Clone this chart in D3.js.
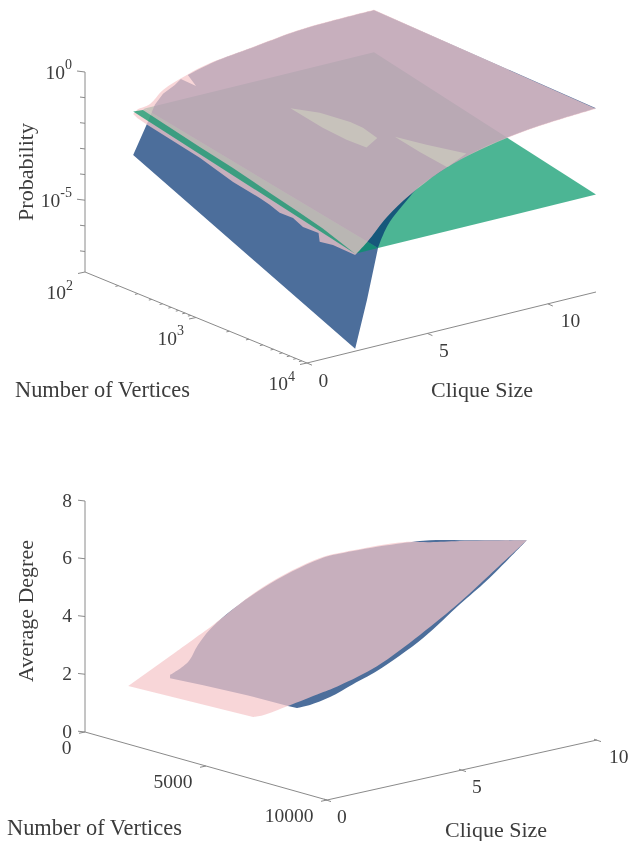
<!DOCTYPE html>
<html><head><meta charset="utf-8">
<script src="https://cdn.jsdelivr.net/npm/d3@7"></script>
<style>
html,body{margin:0;padding:0;background:#fff}
svg{display:block;filter:blur(0.45px)}
text{font-family:"Liberation Serif",serif;fill:#3c3c3c}
</style></head><body>
<script>
// ---------- Top panel data: [clique size, log10 vertices, log10 probability] ----------
const greenPlaneCorners = [[2.48,2,-2],[12,2,-2],[12,4,-4],[2.95,4,-4]];
const greenBelowPink = [[2.36,2.01,-2.01],[2.48,2,-2],[2.95,4,-4],[2,4,-4],[2.13,3.79,-3.79],[2.21,3.66,-3.66],[2.25,3.45,-3.45],[2.29,3.17,-3.17],[2.35,2.82,-2.82],[2.34,2.53,-2.53]];
const greenAbovePink = [[2,2,-2],[2.36,2.01,-2.01],[2.34,2.53,-2.53],[2.35,2.82,-2.82],[2.29,3.17,-3.17],[2.25,3.45,-3.45],[2.21,3.66,-3.66],[2.13,3.79,-3.79],[2,4,-4]];
const blueLeftEdge = [[2,2,-3.7],[2.57,2,-2.62],[2.9,2,-1.95],[3.24,2,-1.6],[3.73,2,-1.37],[3.98,2,-1.19],[4.61,2,-1.61]];
const blueFarEdge = [[4.27,2,-1.1],[5.31,2,-0.85],[6.97,2,-0.65],[8.63,2,-0.45],[9.75,2,-0.39],[12,2,-0.36]];
const blueFrontEdge = [[12,4,-0.635],[10.08,4,-0.74],[8.3,4,-0.92],[6.76,4,-1.22],[5.52,4,-1.62],[4.6,4,-2.03],[4.27,4,-2.3],[3.36,4,-3.19],[2.95,4,-3.99]];
const blueBottomEdge = [[2.49,4,-5.92],[2,4,-7.71]];
const blueHoleA = [[6.87,2.36,-2.36],[7.54,2.48,-2.48],[8.02,2.65,-2.65],[8.13,2.74,-2.74],[8.08,2.88,-2.88],[7.31,2.95,-2.95],[7.08,2.82,-2.82],[6.92,2.64,-2.64]];
const blueHoleB = [[8.67,2.91,-2.91],[9.25,3.07,-3.07],[10.03,3.26,-3.26],[8.82,3.35,-3.35],[8.71,3.13,-3.13]];
const pinkTipEdge = [[2,2.04,-2.19],[2,2,-2.1]];
const pinkFarEdge = [[2.2,2,-1.95],[2.7,2,-1.87],[3.24,2,-1.45],[4.23,2,-1.09],[5.31,2,-0.83],[6.97,2,-0.63],[8.63,2,-0.43],[9.75,2,-0.37],[12,2,-0.34]];
const pinkFrontEdge = [[12,4,-0.655],[10.08,4,-0.76],[8.3,4,-0.94],[6.76,4,-1.24],[5.52,4,-1.62],[4.27,4,-2.23],[3.32,4,-2.87],[2.5,4,-3.66],[2,4,-4.05]];
const pinkLowerEdge = [[2,3.8,-4.01],[2,3.68,-4.1],[2,3.67,-3.78],[2,3.53,-3.79],[2,3.44,-3.6],[2,3.32,-3.61],[2,3.23,-3.46],[2,3.14,-3.35],[2,2.9,-3.15],[2,2.6,-2.74],[2,2.13,-2.3]];

// ---------- Bottom panel data: [clique size, vertices, average degree] ----------
const lowerPinkNose = [[1.6,0,1.26],[3,450,2.28]];
const lowerPinkTop = [[3,450,2.28],[4,830,3.07],[5,1780,4.4],[5.5,3570,5.72],[6,4380,6.08],[6.5,5890,6.61],[6.8,6670,6.73],[7,7690,6.97],[7.4,10000,7.46]];
const lowerPinkEdge = [[7.4,10000,7.46],[5.93,10000,6.48],[4.93,10000,5.83],[3.44,10000,5],[1.85,10000,4.25],[1.6,8750,3.35],[1.6,7960,2.89],[1.6,6600,2.12],[1.6,5570,1.56],[1.6,5160,1.4]];
const lowerBlueNose = [[1.6,1730,1.94],[1.6,1730,2.05]];
const lowerBlueTop = [[1.6,1730,2.05],[2.5,1470,2.25],[3,1320,2.7],[4,830,3.03],[5,1780,4.37],[5.5,3570,5.69],[6,4380,6.05],[6.5,5890,6.58],[6.8,6670,6.8],[7.1,7860,7.02],[7.4,10000,7.46]];
const lowerBlueEdge = [[7.4,10000,7.46],[5.93,10000,6.38],[4.93,10000,5.76],[3.56,10000,4.87],[1.85,10000,4.08],[1.6,9290,3.51],[1.6,8340,2.84],[1.6,7510,2.37],[1.6,6970,2.14]];
const lowerBlueBase = [[1.6,6600,2.12],[1.6,4910,2.1],[1.6,3100,2.02]];

// ---------- Axis ticks ----------
const topProbMajor = [0,-5];
const topProbMinor = [-1,-2,-3,-4,-6,-7];
const topVertMajor = [100,1000,10000];
const topVertMinor = [200,300,400,500,600,700,800,900,2000,3000,4000,5000,6000,7000,8000,9000];
const topCliqueTicks = [0,5,10];
const lowDegreeTicks = [0,2,4,6,8];
const lowVertTicks = [0,5000,10000];
const lowCliqueTicks = [0,5,10];

const colours = {green:"#009567", blue:"#003170", pink:"#F5C7C9", axis:"#8a8a8a"};
const alpha = {green:0.7, blue:0.7, pink:0.73};

const svg = d3.select("body").append("svg").attr("width",640).attr("height",841);
svg.append("rect").attr("width",640).attr("height",841).attr("fill","#fff");

// ---------- Scales: each data axis contributes an on-screen offset ----------
const upperView = {
  ox:85, oy:72, toN:e=>Math.pow(10,e),
  cx:d3.scaleLinear().domain([0,12]).range([0,289]),
  cy:d3.scaleLinear().domain([0,12]).range([0,-71]),
  nx:d3.scaleLog().domain([100,10000]).range([0,222]),
  ny:d3.scaleLog().domain([100,10000]).range([0,91]),
  z:d3.scaleLinear().domain([0,-7.8]).range([0,200])
};
const lowerView = {
  ox:85, oy:501, toN:n=>n,
  cx:d3.scaleLinear().domain([0,10]).range([0,270]),
  cy:d3.scaleLinear().domain([0,10]).range([0,-60]),
  nx:d3.scaleLinear().domain([0,10000]).range([0,242]),
  ny:d3.scaleLinear().domain([0,10000]).range([0,68]),
  z:d3.scaleLinear().domain([8,0]).range([0,231])
};
const px = (p,c,n)=>p.ox+p.nx(n)+p.cx(c);
const py = (p,c,n,v)=>p.oy+p.ny(n)+p.cy(c)+p.z(v);

// An outline is a chain of runs, straight or smooth, closed at the end.
function outline(p,runs){
  return runs.map((run,i)=>{
    const gen = d3.line()
      .x(r=>px(p,r[0],p.toN(r[1])))
      .y(r=>py(p,r[0],p.toN(r[1]),r[2]))
      .curve(run.smooth ? d3.curveCatmullRom.alpha(0.5) : d3.curveLinear);
    const d = gen(run.rows);
    return i===0 ? d : "L"+d.slice(1);
  }).join("")+"Z";
}
const straight = rows=>({rows,smooth:false});
const smooth = rows=>({rows,smooth:true});

function surface(d,fill,op){
  svg.append("path").attr("d",d).attr("fill",fill).attr("fill-opacity",op)
     .attr("fill-rule","evenodd").attr("stroke","none");
}

// ---------- Top panel surfaces, lowest first ----------
surface(outline(upperView,[straight(greenPlaneCorners)]),colours.green,alpha.green);
surface(outline(upperView,[straight(blueLeftEdge),smooth(blueFarEdge),smooth(blueFrontEdge),straight(blueBottomEdge)])
  +outline(upperView,[straight(blueHoleA)])+outline(upperView,[straight(blueHoleB)]),colours.blue,alpha.blue);
surface(outline(upperView,[straight(greenBelowPink)]),colours.green,alpha.green);
surface(outline(upperView,[straight(pinkTipEdge),smooth(pinkFarEdge),smooth(pinkFrontEdge),straight(pinkLowerEdge)]),colours.pink,alpha.pink);
surface(outline(upperView,[straight(greenAbovePink)]),colours.green,alpha.green);

// ---------- Bottom panel surfaces ----------
surface(outline(lowerView,[straight(lowerBlueNose),smooth(lowerBlueTop),smooth(lowerBlueEdge),straight(lowerBlueBase)]),colours.blue,alpha.blue);
surface(outline(lowerView,[straight(lowerPinkNose),smooth(lowerPinkTop),smooth(lowerPinkEdge)]),colours.pink,alpha.pink);

// ---------- Axis drawing ----------
function seg(x1,y1,x2,y2){
  svg.append("line").attr("x1",x1).attr("y1",y1).attr("x2",x2).attr("y2",y2)
     .attr("stroke",colours.axis).attr("stroke-width",1);
}
function label(x,y,txt,anchor,size){
  return svg.append("text").attr("x",x).attr("y",y).attr("text-anchor",anchor||"start")
     .attr("font-size",size||19.5).text(txt);
}
function powerLabel(x,y,exp,anchor){
  const t = svg.append("text").attr("x",x).attr("y",y).attr("text-anchor",anchor).attr("font-size",19.5);
  t.append("tspan").text("10");
  t.append("tspan").attr("dy",-9.5).attr("font-size",14).text(exp);
}

// top axes
const tMinN=100,tMaxN=10000,tMinZ=-7.8;
seg(px(upperView,0,tMinN),py(upperView,0,tMinN,0),px(upperView,0,tMinN),py(upperView,0,tMinN,tMinZ));
seg(px(upperView,0,tMinN),py(upperView,0,tMinN,tMinZ),px(upperView,0,tMaxN),py(upperView,0,tMaxN,tMinZ));
seg(px(upperView,0,tMaxN),py(upperView,0,tMaxN,tMinZ),px(upperView,12,tMaxN),py(upperView,12,tMaxN,tMinZ));
topProbMajor.forEach(v=>{
  const x=px(upperView,0,tMinN),y=py(upperView,0,tMinN,v);
  seg(x,y,x-8,y-1);
  powerLabel(x-13,y+6.5,v===0?"0":"-5","end");
});
topProbMinor.forEach(v=>{
  const x=px(upperView,0,tMinN),y=py(upperView,0,tMinN,v);
  seg(x,y,x-5,y-.6);
});
topVertMajor.forEach(n=>{
  const x=px(upperView,0,n),y=py(upperView,0,n,tMinZ);
  seg(x,y,x-7,y+1.5);
  powerLabel(x-12,y+27,String(Math.log10(n)),"end");
});
topVertMinor.forEach(n=>{
  const x=px(upperView,0,n),y=py(upperView,0,n,tMinZ);
  seg(x,y,x-3,y+.7);
});
topCliqueTicks.forEach(c=>{
  const x=px(upperView,c,tMaxN),y=py(upperView,c,tMaxN,tMinZ);
  seg(x,y,x+5,y+2.2);
  label(x+(c===10?13:11.5),y+23.5,String(c));
});

// bottom axes
seg(px(lowerView,0,0),py(lowerView,0,0,8),px(lowerView,0,0),py(lowerView,0,0,0));
seg(px(lowerView,0,0),py(lowerView,0,0,0),px(lowerView,0,10000),py(lowerView,0,10000,0));
seg(px(lowerView,0,10000),py(lowerView,0,10000,0),px(lowerView,10,10000),py(lowerView,10,10000,0));
lowDegreeTicks.forEach(v=>{
  const x=px(lowerView,0,0),y=py(lowerView,0,0,v);
  seg(x,y,x-7,y-.8);
  label(x-13,y+5.5,String(v),"end");
});
lowVertTicks.forEach(n=>{
  const x=px(lowerView,0,n),y=py(lowerView,0,n,0);
  seg(x,y,x-6,y+1.3);
  label(x-13.5,y+21.5,String(n),"end");
});
lowCliqueTicks.forEach(c=>{
  const x=px(lowerView,c,10000),y=py(lowerView,c,10000,0);
  seg(x-3,y-.8,x+4,y+1.6);
  label(x+(c===10?12:10),y+22.5,String(c));
});

// axis titles
label(15,397,"Number of Vertices","start",22.4);
label(431,397,"Clique Size","start",22);
label(7,835,"Number of Vertices","start",22.4);
label(445,837,"Clique Size","start",22);
svg.append("text").attr("transform","translate(33,172) rotate(-90)").attr("text-anchor","middle").attr("font-size",22).text("Probability");
svg.append("text").attr("transform","translate(33,611) rotate(-90)").attr("text-anchor","middle").attr("font-size",22).text("Average Degree");
</script>
</body></html>
